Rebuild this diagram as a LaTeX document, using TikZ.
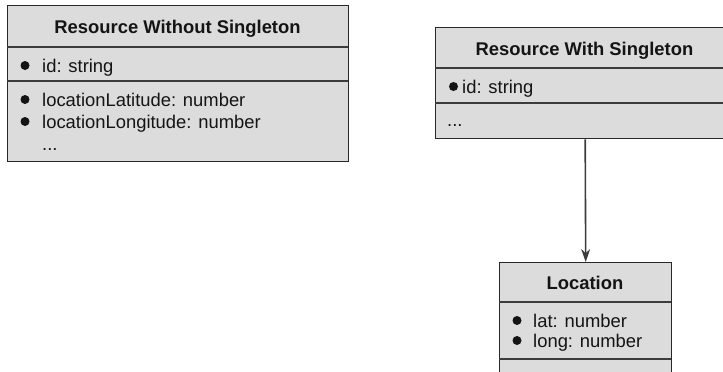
\documentclass[tikz,border=0pt]{standalone}
\usepackage{fontspec}
\setmainfont{Liberation Sans}
\usetikzlibrary{arrows.meta}
\definecolor{boxfill}{RGB}{220,220,220}
\definecolor{boxline}{RGB}{40,40,40}
\definecolor{divline}{RGB}{60,60,60}
\definecolor{txt}{RGB}{20,20,20}
\begin{document}
\begin{tikzpicture}[x=1pt,y=-1pt,
  classbox/.style={draw=boxline,fill=boxfill,line width=1.4pt,inner sep=0pt,anchor=north west},
  divider/.style={draw=divline,line width=1.7pt},
  title/.style={anchor=base,inner sep=0pt,text=txt,font=\fontsize{18.4}{22}\selectfont\bfseries},
  item/.style={anchor=base west,inner sep=0pt,text=txt,font=\fontsize{18.4}{22}\selectfont},
  bul/.style={circle,fill=txt,inner sep=0pt,minimum size=9pt},
  conn/.style={draw=divline,line width=1.6pt,-{Stealth[length=13pt,width=9pt]}}
]
\clip (0,0) rectangle (723,372);
\fill[white] (0,0) rectangle (723,372);

% Left box
\node[classbox,minimum width=341pt,minimum height=156pt] (lb) at (7,5) {};
\draw[divider] (7,47) -- (348,47);
\draw[divider] (7,81) -- (348,81);
\node[title] (lbt) at (177.5,34) {Resource Without Singleton};
\node[bul] (lb1) at (25,65.5) {};
\node[item] (lbi1) at (42,72) {id: string};
\node[bul] (lb2) at (25,99.5) {};
\node[item] (lbi2) at (42,106) {locationLatitude: number};
\node[bul] (lb3) at (25,121.5) {};
\node[item] (lbi3) at (42,128) {locationLongitude: number};
\node[item] (lbi4) at (42,150) {...};

% Right box
\node[classbox,minimum width=299pt,minimum height=111pt] (rb) at (435,27) {};
\draw[divider] (435,68) -- (734,68);
\draw[divider] (435,103) -- (734,103);
\node[title] (rbt) at (584.5,55) {Resource With Singleton};
\node[bul] (rb1) at (453.5,86.5) {};
\node[item] (rbi1) at (462,93) {id: string};
\node[item] (rbi2) at (447,126) {...};

% Location box
\node[classbox,minimum width=172pt,minimum height=130pt] (loc) at (499,262) {};
\draw[divider] (499,302) -- (671,302);
\draw[divider] (499,359) -- (671,359);
\node[title] (loct) at (585,289) {Location};
\node[bul] (loc1) at (517,320.5) {};
\node[item] (loci1) at (533,327) {lat: number};
\node[bul] (loc2) at (517,340.5) {};
\node[item] (loci2) at (533,347) {long: number};

% Connector
\draw[conn] (rb.south) -- (loc.north);
\end{tikzpicture}
\end{document}
